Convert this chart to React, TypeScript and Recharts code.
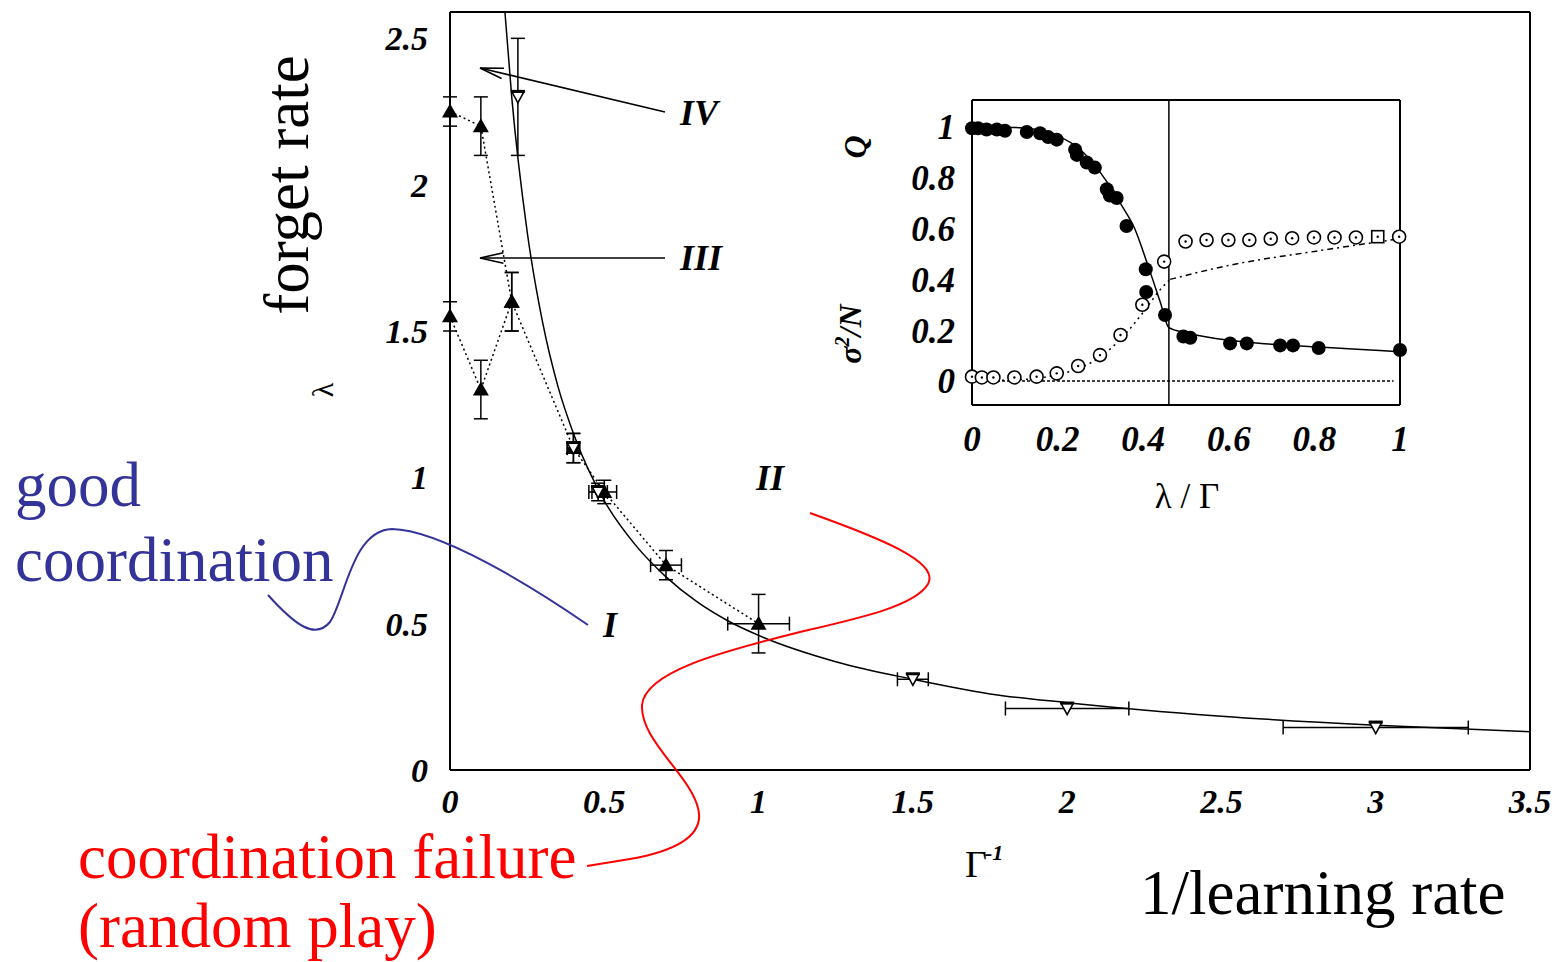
import React from "react";
import {
  ComposedChart,
  ErrorBar,
  Line,
  ReferenceLine,
  Scatter,
  XAxis,
  YAxis,
} from "recharts";

// ---- main panel: forget rate λ vs 1/learning rate Γ^-1 ----
const mainXTicks = [0, 0.5, 1, 1.5, 2, 2.5, 3, 3.5];
const mainXInner = [0.5, 1, 1.5, 2, 2.5, 3];
const mainYTicks = [0, 0.5, 1, 1.5, 2, 2.5];
const mainYInner = [0.5, 1, 1.5, 2, 2.5];

// filled triangles, upper branch (dotted join)
const upperX = [0, 0.1, 0.2, 0.4, 0.5, 0.7, 1.0];
const upperY = [2.25, 2.2, 1.6, 1.1, 0.95, 0.7, 0.5];
const upperErrY = [0.05, 0.1, 0.1, 0.05, 0.04, 0.05, 0.1];
const upperErrX = [0, 0, 0, 0.02, 0.04, 0.05, 0.1];

// filled triangles, lower branch
const lowerX = [0, 0.1, 0.2];
const lowerY = [1.55, 1.3, 1.6];
const lowerErrY = [0.05, 0.1, 0.1];

// open down-triangles
const openX = [0.22, 0.4, 0.48, 1.5, 2.0, 3.0];
const openY = [2.3, 1.1, 0.95, 0.31, 0.21, 0.145];
const openErrY = [0.2, 0.05, 0.03, 0, 0, 0];
const openErrX = [0, 0.02, 0.03, 0.05, 0.2, 0.3];

// solid boundary curve
const fitX = [0.178, 0.2, 0.25, 0.3, 0.35, 0.4, 0.5, 0.6, 0.7, 0.8, 0.9, 1.0, 1.25, 1.5, 1.75, 2.0, 2.5, 3.0, 3.5];
const fitY = [2.59, 2.3, 1.84, 1.53, 1.31, 1.15, 0.92, 0.77, 0.66, 0.575, 0.51, 0.46, 0.37, 0.31, 0.26, 0.23, 0.184, 0.153, 0.131];

// ---- inset: Q and σ²/N vs λ/Γ ----
const insetTicks = [0, 0.2, 0.4, 0.6, 0.8, 1];
const insetXInner = [0.2, 0.4, 0.6, 0.8];
const criticalX = 0.46;

const qX = [0, 0.014, 0.034, 0.058, 0.077, 0.128, 0.159, 0.178, 0.198, 0.241, 0.245, 0.268, 0.287, 0.315, 0.322, 0.338, 0.361, 0.406, 0.407, 0.451, 0.494, 0.51, 0.603, 0.642, 0.72, 0.75, 0.81, 1.0];
const qY = [0.995, 0.995, 0.99, 0.99, 0.985, 0.98, 0.975, 0.96, 0.95, 0.91, 0.89, 0.86, 0.84, 0.755, 0.73, 0.72, 0.61, 0.44, 0.35, 0.26, 0.175, 0.17, 0.148, 0.148, 0.14, 0.14, 0.13, 0.122];

const sigX = [0, 0.023, 0.05, 0.099, 0.151, 0.198, 0.248, 0.299, 0.347, 0.398, 0.449, 0.499, 0.548, 0.599, 0.648, 0.698, 0.748, 0.799, 0.847, 0.897, 0.998];
const sigY = [0.017, 0.014, 0.014, 0.014, 0.017, 0.03, 0.059, 0.102, 0.181, 0.3, 0.47, 0.549, 0.555, 0.555, 0.555, 0.56, 0.562, 0.565, 0.565, 0.565, 0.568];
const sigSquareX = [0.948];
const sigSquareY = [0.568];

const qFitX = [0, 0.1, 0.15, 0.2, 0.25, 0.3, 0.35, 0.38, 0.41, 0.44, 0.46, 0.5, 0.6, 0.7, 0.8, 0.9, 1.0];
const qFitY = [1.0, 0.998, 0.99, 0.965, 0.915, 0.82, 0.69, 0.6, 0.46, 0.31, 0.21, 0.19, 0.16, 0.145, 0.135, 0.125, 0.115];

const sigLowX = [0, 0.1, 0.15, 0.2, 0.25, 0.3, 0.35, 0.4, 0.44, 0.463];
const sigLowY = [0.0, 0.005, 0.01, 0.025, 0.05, 0.095, 0.17, 0.27, 0.36, 0.4];
const sigHighX = [0.463, 0.6, 0.8, 1.0];
const sigHighY = [0.4, 0.455, 0.51, 0.56];

const zeroLineEnd = 0.985;

const SERIF = "'Liberation Serif', 'Times New Roman', serif";
const BLUE = "#333399";
const RED = "#ff0000";

const pts = (xs: number[], ys: number[], ex?: number[], ey?: number[]) =>
  xs.map((x, i) => ({ x, y: ys[i], ex: ex ? ex[i] : 0, ey: ey ? ey[i] : 0 }));

const upperData = pts(upperX, upperY, upperErrX, upperErrY);
const lowerData = pts(lowerX, lowerY, undefined, lowerErrY);
const openData = pts(openX, openY, openErrX, openErrY);
const fitData = pts(fitX, fitY);
const qData = pts(qX, qY);
const sigData = pts(sigX, sigY);
const sigSqData = pts(sigSquareX, sigSquareY);
const qFitData = pts(qFitX, qFitY);
const sigLowData = pts(sigLowX, sigLowY);
const sigHighData = pts(sigHighX, sigHighY);

const tickFont = {
  fill: "#000",
  fontFamily: SERIF,
  fontWeight: "bold",
  fontStyle: "italic",
  fontSize: 34,
};

const FilledTri = (p: any) => {
  const { cx, cy } = p;
  if (cx == null || cy == null) return null;
  return <path d={`M${cx},${cy - 8} L${cx + 8},${cy + 6} L${cx - 8},${cy + 6} Z`} fill="#000" />;
};

const OpenTri = (p: any) => {
  const { cx, cy } = p;
  if (cx == null || cy == null) return null;
  return (
    <g>
      <path
        d={`M${cx - 6},${cy - 5} L${cx + 6},${cy - 5} L${cx},${cy + 6} Z`}
        fill="#fff"
        stroke="#000"
        strokeWidth={1.6}
      />
      <rect x={cx - 7} y={cy - 7} width={14} height={3} fill="#000" />
    </g>
  );
};

const FilledDot = (p: any) => {
  const { cx, cy } = p;
  if (cx == null || cy == null) return null;
  return <circle cx={cx} cy={cy} r={7} fill="#000" />;
};

const OpenDot = (p: any) => {
  const { cx, cy } = p;
  if (cx == null || cy == null) return null;
  return (
    <g>
      <circle cx={cx} cy={cy} r={6.5} fill="#fff" stroke="#000" strokeWidth={1.6} />
      <circle cx={cx} cy={cy} r={1.2} fill="#000" />
    </g>
  );
};

const OpenSquare = (p: any) => {
  const { cx, cy } = p;
  if (cx == null || cy == null) return null;
  return (
    <g>
      <rect x={cx - 6} y={cy - 6} width={12} height={12} fill="#fff" stroke="#000" strokeWidth={1.6} />
      <circle cx={cx} cy={cy} r={1.2} fill="#000" />
    </g>
  );
};

function arrowHead(tipX: number, tipY: number, tailX: number, tailY: number) {
  const len = 24;
  const ang = 0.22;
  const base = Math.atan2(tailY - tipY, tailX - tipX);
  const a1 = base + ang;
  const a2 = base - ang;
  return `M${tipX + len * Math.cos(a1)},${tipY + len * Math.sin(a1)} L${tipX},${tipY} L${tipX + len * Math.cos(a2)},${tipY + len * Math.sin(a2)}`;
}

const frame = { stroke: "#000", strokeWidth: 2 };
const tickStroke = { stroke: "#000", strokeWidth: 1.5 };

function MainChart() {
  return (
    <ComposedChart width={1557} height={962} margin={{ top: 12, right: 27, left: 390, bottom: 132 }}>
      <XAxis
        xAxisId="x"
        dataKey="x"
        type="number"
        domain={[0, 3.5]}
        ticks={mainXTicks}
        height={60}
        axisLine={false}
        tickLine={false}
        tickSize={0}
        tickMargin={19}
        tick={tickFont}
      />
      <YAxis
        yAxisId="y"
        dataKey="y"
        type="number"
        domain={[0, 2.59]}
        ticks={mainYTicks}
        width={60}
        axisLine={false}
        tickLine={false}
        tickSize={0}
        tickMargin={22}
        tick={tickFont}
      />
      <XAxis xAxisId="mb" orientation="bottom" mirror type="number" domain={[0, 3.5]} ticks={mainXInner} height={1} tick={false} tickSize={12} axisLine={frame} tickLine={tickStroke} />
      <XAxis xAxisId="mt" orientation="top" mirror type="number" domain={[0, 3.5]} ticks={mainXInner} height={1} tick={false} tickSize={12} axisLine={frame} tickLine={tickStroke} />
      <YAxis yAxisId="ml" orientation="left" mirror type="number" domain={[0, 2.59]} ticks={mainYInner} width={1} tick={false} tickSize={12} axisLine={frame} tickLine={tickStroke} />
      <YAxis yAxisId="mr" orientation="right" mirror type="number" domain={[0, 2.59]} ticks={mainYInner} width={1} tick={false} tickSize={12} axisLine={frame} tickLine={tickStroke} />

      <Line
        xAxisId="x"
        yAxisId="y"
        data={fitData}
        dataKey="y"
        type="monotone"
        stroke="#000"
        strokeWidth={1.5}
        dot={false}
        isAnimationActive={false}
      />
      <Scatter
        xAxisId="x"
        yAxisId="y"
        data={lowerData}
        shape={FilledTri}
        line={{ stroke: "#000", strokeWidth: 1.5, strokeDasharray: "2 3" }}
        isAnimationActive={false}
      >
        <ErrorBar dataKey="ey" direction="y" width={7} stroke="#000" strokeWidth={1.5} />
      </Scatter>
      <Scatter
        xAxisId="x"
        yAxisId="y"
        data={upperData}
        shape={FilledTri}
        line={{ stroke: "#000", strokeWidth: 1.5, strokeDasharray: "2 3" }}
        isAnimationActive={false}
      >
        <ErrorBar dataKey="ey" direction="y" width={7} stroke="#000" strokeWidth={1.5} />
        <ErrorBar dataKey="ex" direction="x" width={7} stroke="#000" strokeWidth={1.5} />
      </Scatter>
      <Scatter xAxisId="x" yAxisId="y" data={openData} shape={OpenTri} isAnimationActive={false}>
        <ErrorBar dataKey="ey" direction="y" width={7} stroke="#000" strokeWidth={1.5} />
        <ErrorBar dataKey="ex" direction="x" width={7} stroke="#000" strokeWidth={1.5} />
      </Scatter>
    </ComposedChart>
  );
}

function InsetChart() {
  const insetFont = { ...tickFont, fontSize: 35 };
  return (
    <ComposedChart width={1557} height={962} margin={{ top: 100, right: 157, left: 912, bottom: 507 }}>
      <XAxis
        xAxisId="x"
        dataKey="x"
        type="number"
        domain={[0, 1]}
        ticks={insetTicks}
        height={50}
        axisLine={false}
        tickLine={false}
        tickSize={0}
        tickMargin={21}
        tick={insetFont}
      />
      <YAxis
        yAxisId="y"
        dataKey="y"
        type="number"
        domain={[-0.0945, 1.106]}
        ticks={insetTicks}
        width={60}
        axisLine={false}
        tickLine={false}
        tickSize={0}
        tickMargin={17}
        tick={insetFont}
      />
      <XAxis xAxisId="mb" orientation="bottom" mirror type="number" domain={[0, 1]} ticks={insetXInner} height={1} tick={false} tickSize={11} axisLine={frame} tickLine={tickStroke} />
      <XAxis xAxisId="mt" orientation="top" mirror type="number" domain={[0, 1]} ticks={insetXInner} height={1} tick={false} tickSize={11} axisLine={frame} tickLine={tickStroke} />
      <YAxis yAxisId="ml" orientation="left" mirror type="number" domain={[-0.0945, 1.106]} ticks={insetTicks} width={1} tick={false} tickSize={11} axisLine={frame} tickLine={tickStroke} />
      <YAxis yAxisId="mr" orientation="right" mirror type="number" domain={[-0.0945, 1.106]} ticks={insetTicks} width={1} tick={false} tickSize={11} axisLine={frame} tickLine={tickStroke} />

      <ReferenceLine xAxisId="x" yAxisId="y" x={criticalX} stroke="#000" strokeWidth={1.5} />
      <ReferenceLine
        xAxisId="x"
        yAxisId="y"
        segment={[{ x: 0, y: 0 }, { x: zeroLineEnd, y: 0 }]}
        stroke="#000"
        strokeWidth={1.5}
        strokeDasharray="3 2"
      />
      <Line xAxisId="x" yAxisId="y" data={qFitData} dataKey="y" type="monotone" stroke="#000" strokeWidth={1.5} dot={false} isAnimationActive={false} />
      <Line xAxisId="x" yAxisId="y" data={sigLowData} dataKey="y" type="monotone" stroke="#000" strokeWidth={1.5} strokeDasharray="2 4" dot={false} isAnimationActive={false} />
      <Line xAxisId="x" yAxisId="y" data={sigHighData} dataKey="y" type="monotone" stroke="#000" strokeWidth={1.5} strokeDasharray="6 4 2 4" dot={false} isAnimationActive={false} />
      <Scatter xAxisId="x" yAxisId="y" data={sigData} shape={OpenDot} isAnimationActive={false} />
      <Scatter xAxisId="x" yAxisId="y" data={sigSqData} shape={OpenSquare} isAnimationActive={false} />
      <Scatter xAxisId="x" yAxisId="y" data={qData} shape={FilledDot} isAnimationActive={false} />
    </ComposedChart>
  );
}

function Annotations() {
  const label = { fontFamily: SERIF, fontSize: 63 };
  const roman = { fontFamily: SERIF, fontWeight: "bold", fontStyle: "italic", fontSize: 36, fill: "#000" } as const;
  return (
    <svg width={1557} height={962} style={{ position: "absolute", left: 0, top: 0, pointerEvents: "none" }}>
      {/* phase arrows */}
      <path d="M665,112 L480,68" stroke="#000" strokeWidth={1.6} fill="none" />
      <path d={arrowHead(480, 68, 665, 112)} stroke="#000" strokeWidth={1.6} fill="none" />
      <path d="M665,258 L480,258" stroke="#000" strokeWidth={1.6} fill="none" />
      <path d={arrowHead(480, 258, 665, 258)} stroke="#000" strokeWidth={1.6} fill="none" />
      <text x={680} y={125} {...roman}>IV</text>
      <text x={680} y={270} {...roman}>III</text>
      <text x={756} y={490} {...roman}>II</text>
      <text x={603} y={637} {...roman}>I</text>

      {/* hand-drawn pointers */}
      <path
        d="M268,595 C295,625 315,640 330,622 C345,600 352,530 392,529 C440,530 530,585 588,625"
        stroke={BLUE}
        strokeWidth={2}
        fill="none"
      />
      <path
        d="M810,513 C880,538 940,562 928,584 C915,606 860,618 800,632 C720,652 645,672 642,705 C640,740 690,775 698,808 C706,838 670,852 630,859 L587,866"
        stroke={RED}
        strokeWidth={2}
        fill="none"
      />

      <text x={15} y={506} fill={BLUE} {...label}>good</text>
      <text x={15} y={581} fill={BLUE} {...label}>coordination</text>
      <text x={78} y={878} fill={RED} {...label}>coordination failure</text>
      <text x={78} y={947} fill={RED} {...label}>(random play)</text>
      <text x={1140} y={914} fill="#000" {...label}>1/learning rate</text>
      <text x={308} y={185} fill="#000" textAnchor="middle" transform="rotate(-90 308 185)" {...label}>
        forget rate
      </text>

      {/* axis symbols */}
      <text x={333} y={390} fill="#000" fontFamily={SERIF} fontSize={30} textAnchor="middle" transform="rotate(-90 333 390)">
        λ
      </text>
      <text x={965} y={877} fill="#000" fontFamily={SERIF} fontSize={38}>
        Γ
      </text>
      <text x={985} y={860} fill="#000" fontFamily={SERIF} fontSize={22} fontWeight="bold" fontStyle="italic">
        -1
      </text>
      <text x={1187} y={508} fill="#000" fontFamily={SERIF} fontSize={35} textAnchor="middle">
        λ / Γ
      </text>
      <text x={866} y={147} fill="#000" fontFamily={SERIF} fontSize={32} fontWeight="bold" fontStyle="italic" textAnchor="middle" transform="rotate(-90 866 147)">
        Q
      </text>
      <text x={861} y={334} fill="#000" fontFamily={SERIF} fontSize={32} fontWeight="bold" fontStyle="italic" textAnchor="middle" transform="rotate(-90 861 334)">
        σ<tspan dy={-12} fontSize={20}>2</tspan>
        <tspan dy={12}>/N</tspan>
      </text>
    </svg>
  );
}

export default function App() {
  return (
    <div style={{ position: "absolute", left: 0, top: 0, width: 1557, height: 962, background: "#fff", overflow: "hidden" }}>
      <div style={{ position: "absolute", left: 0, top: 0 }}>
        <MainChart />
      </div>
      <div style={{ position: "absolute", left: 0, top: 0 }}>
        <InsetChart />
      </div>
      <Annotations />
    </div>
  );
}
